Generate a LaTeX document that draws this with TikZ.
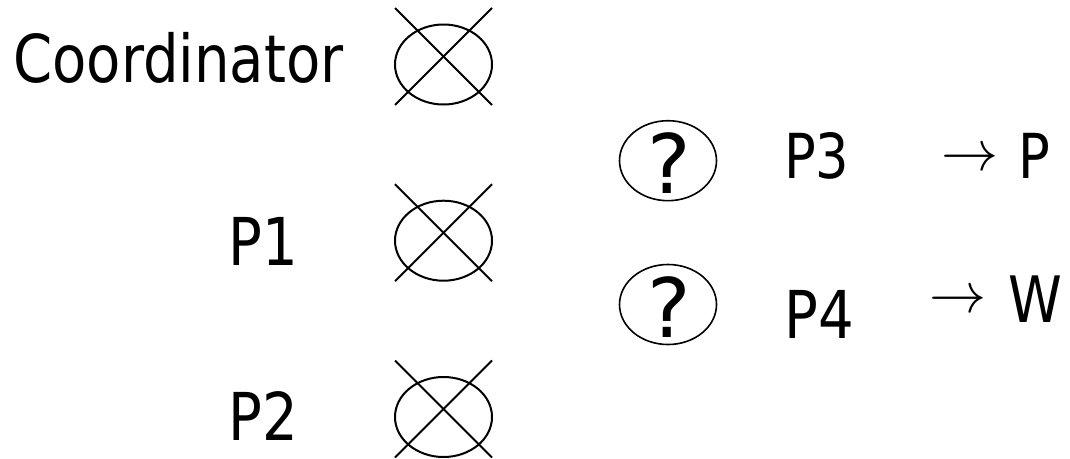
\documentclass[tikz,border=0pt]{standalone}
\usepackage{fontspec}
\usepackage{graphicx}
\setmainfont[FakeStretch=0.85]{DejaVu Sans}
\newfontfamily\qfont{DejaVu Sans}
\usetikzlibrary{shapes.geometric}
\begin{document}
\begin{tikzpicture}[x=1pt,y=-1pt,
  lbl/.style={anchor=base west,inner sep=0pt,font=\fontsize{66}{70}\selectfont},
  xell/.style={ellipse,draw,line width=2pt,minimum width=97pt,minimum height=80pt,inner sep=0pt,outer sep=0pt},
  qell/.style={ellipse,draw,line width=1.6pt,minimum width=97pt,minimum height=80pt,inner sep=0pt,outer sep=0pt},
  qmark/.style={anchor=base,inner sep=0pt,font=\qfont\fontsize{82}{88}\selectfont},
  xline/.style={line width=2pt},
  arr/.style={inner sep=0pt}]
\useasboundingbox (0,0) rectangle (1070,458);
% labels
\node[lbl] (tc) at (13,82) {Coordinator};
\node[lbl] (t1) at (228,265) {P1};
\node[lbl] (t2) at (228,440) {P2};
\node[lbl,font=\fontsize{62}{66}\selectfont] (t3) at (784,178) {P3};
\node[lbl] (t4) at (784,338) {P4};
% crossed ellipses
\foreach \n/\cy in {ec/64.5, e1/240.7, e2/417} {
  \node[xell] (\n) at (443.5,\cy) {};
  \draw[xline] ([shift={(-48.5,-56.5)}]\n.center) -- ([shift={(48.5,40.5)}]\n.center);
  \draw[xline] ([shift={(48.5,-56.5)}]\n.center) -- ([shift={(-48.5,40.5)}]\n.center);
}
% question ellipses
\node[qell] (q3) at (668,160.7) {};
\node[qmark] (qm3) at (669,193) {?};
\node[qell] (q4) at (668,304.5) {};
\node[qmark] (qm4) at (669,337) {?};
% arrows
\node[arr] (a3) at (970,160) {\scalebox{5.7}{$\rightarrow$}};
\node[lbl,font=\fontsize{62}{66}\selectfont] (r3) at (1018,178) {P};
\node[arr] (a4) at (958,302) {\scalebox{5.7}{$\rightarrow$}};
\node[lbl,font=\fontsize{64}{66}\selectfont] (r4) at (1008,322) {W};
\end{tikzpicture}
\end{document}
